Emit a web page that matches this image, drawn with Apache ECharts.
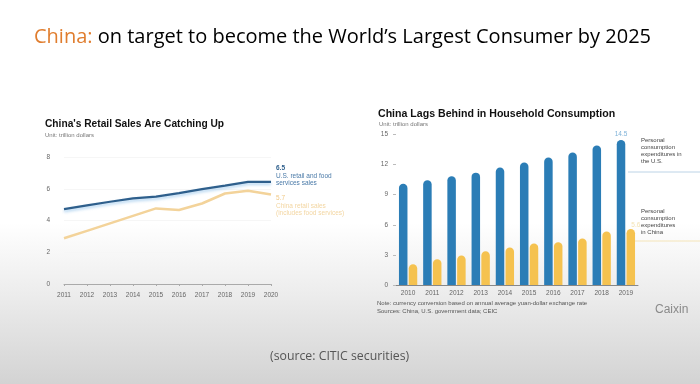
<!DOCTYPE html>
<html><head><meta charset="utf-8">
<script src="https://cdn.jsdelivr.net/npm/echarts@6/dist/echarts.min.js"></script>
<style>html,body{margin:0;padding:0;}#c{width:700px;height:384px;}</style>
</head><body><div id="c"></div>
<script>
// Left chart: retail sales (trillion dollars)
const retailYears = ['2011','2012','2013','2014','2015','2016','2017','2018','2019','2020'];
const usRetail = [4.72, 4.95, 5.18, 5.39, 5.5, 5.72, 5.98, 6.2, 6.43, 6.43];
const chinaRetail = [2.88, 3.35, 3.82, 4.29, 4.76, 4.66, 5.07, 5.7, 5.87, 5.64];
const retailTicks = [0, 2, 4, 6, 8];
const usRetailLabel = '6.5';
const chinaRetailLabel = '5.7';

// Right chart: household consumption (trillion dollars)
const consYears = ['2010','2011','2012','2013','2014','2015','2016','2017','2018','2019'];
const usCons = [10.1, 10.45, 10.85, 11.2, 11.7, 12.2, 12.7, 13.2, 13.9, 14.45];
const chinaCons = [2.07, 2.57, 2.93, 3.37, 3.73, 4.13, 4.27, 4.63, 5.33, 5.57];
const consTicks = [0, 3, 6, 9, 12, 15];
const usConsLabel = '14.5';
const chinaConsLabel = '5.6';

const chart = echarts.init(document.getElementById('c'));
const gray = '#666';
const tf = 'Liberation Sans, Arial, sans-serif';

chart.setOption({
  animation: false,
  backgroundColor: {type:'linear', x:0, y:0, x2:0, y2:1, colorStops:[
    {offset:0, color:'#ffffff'}, {offset:0.58, color:'#ffffff'},
    {offset:0.75, color:'#eeeeee'}, {offset:1, color:'#d3d3d3'}]},
  title: [
    {text:'{o|China:} on target to become the World\u2019s Largest Consumer by 2025', left:34, top:27, padding:0,
     textStyle:{fontFamily:'Open Sans, sans-serif', fontSize:20, fontWeight:'normal', color:'#000',
       rich:{o:{color:'#e07d2e', fontFamily:'Open Sans, sans-serif', fontSize:20}}}},
    {text:"China's Retail Sales Are Catching Up", left:45, top:119, padding:0,
     textStyle:{fontFamily:tf, fontSize:10.2, fontWeight:'bold', color:'#111'}},
    {text:'Unit: trillion dollars', left:45, top:132, padding:0, textStyle:{fontFamily:tf, fontSize:6, color:'#777', fontWeight:'normal'}},
    {text:'China Lags Behind in Household Consumption', left:378, top:109, padding:0,
     textStyle:{fontFamily:tf, fontSize:10.6, fontWeight:'bold', color:'#111'}},
    {text:'Unit: trillion dollars', left:379, top:121, padding:0, textStyle:{fontFamily:tf, fontSize:6, color:'#777', fontWeight:'normal'}},
    {text:'Note: currency conversion based on annual average yuan-dollar exchange rate\nSources: China, U.S. government data; CEIC',
     left:377, top:299, padding:0, textStyle:{fontFamily:tf, fontSize:6, color:'#555', fontWeight:'normal', lineHeight:8}},
    {text:'Caixin', left:655, top:304, padding:0, textStyle:{fontFamily:tf, fontSize:12, color:'#8a8a8a', fontWeight:'normal'}},
    {text:'(source: CITIC securities)', left:270, top:350, padding:0,
     textStyle:{fontFamily:'Open Sans, sans-serif', fontSize:12.3, color:'#555', fontWeight:'normal'}}
  ],
  grid: [
    {left:64, top:157, width:207, height:127},
    {left:396, top:134.5, width:242, height:150.5}
  ],
  xAxis: [
    {gridIndex:0, type:'category', data:retailYears, boundaryGap:false,
     axisLine:{lineStyle:{color:'#aaa', width:1}}, axisTick:{show:true, length:2, lineStyle:{color:'#aaa'}},
     axisLabel:{color:gray, fontSize:6.5, fontFamily:tf, margin:8}},
    {gridIndex:1, type:'category', data:consYears,
     axisLine:{lineStyle:{color:'#888', width:1}}, axisTick:{show:false},
     axisLabel:{color:gray, fontSize:6.5, fontFamily:tf, margin:5}}
  ],
  yAxis: [
    {gridIndex:0, type:'value', min:retailTicks[0], max:retailTicks[retailTicks.length-1], interval:2,
     axisLine:{show:false}, axisTick:{show:false},
     axisLabel:{color:gray, fontSize:6.5, fontFamily:tf, margin:14},
     splitLine:{show:true, lineStyle:{color:'#f6f6f6'}}},
    {gridIndex:1, type:'value', min:consTicks[0], max:consTicks[consTicks.length-1], interval:3,
     axisLine:{show:false}, axisTick:{show:true, length:3, inside:false, lineStyle:{color:'#bbb'}},
     axisLabel:{color:gray, fontSize:6.5, fontFamily:tf, margin:8},
     splitLine:{show:false}}
  ],
  series: [
    {type:'line', xAxisIndex:0, yAxisIndex:0, data:usRetail, symbol:'none',
     lineStyle:{color:'#2e5f8c', width:2.2, shadowColor:'rgba(120,180,230,0.6)', shadowBlur:3, shadowOffsetY:2},
     endLabel:{show:true, distance:5, offset:[0,-6], align:'left', verticalAlign:'middle',
       formatter:()=>'{v|'+usRetailLabel+'}\n{t|U.S. retail and food}\n{t|services sales}',
       rich:{v:{color:'#2e5f8c', fontSize:6.5, fontWeight:'bold', fontFamily:tf, lineHeight:8},
             t:{color:'#4a7aa8', fontSize:6.5, fontFamily:tf, lineHeight:7.5}}}},
    {type:'line', xAxisIndex:0, yAxisIndex:0, data:chinaRetail, symbol:'none',
     lineStyle:{color:'#f3d39a', width:2.5},
     endLabel:{show:true, distance:5, offset:[0,11], align:'left', verticalAlign:'middle',
       formatter:()=>'{v|'+chinaRetailLabel+'}\n{t|China retail sales}\n{t|(includes food services)}',
       rich:{v:{color:'#f0c987', fontSize:6.5, fontFamily:tf, lineHeight:8},
             t:{color:'#f3d6a2', fontSize:6.5, fontFamily:tf, lineHeight:7.5}}}},
    {type:'bar', xAxisIndex:1, yAxisIndex:1, data:usCons, barWidth:8.5, barGap:'15%',
     itemStyle:{color:'#2b7db6', borderRadius:[4.25,4.25,0,0]},
     label:{show:true, position:'top', distance:2, color:'#7fb2d8', fontSize:6.5, fontFamily:tf,
       formatter:p=>p.dataIndex===usCons.length-1?usConsLabel:''}},
    {type:'bar', xAxisIndex:1, yAxisIndex:1, data:chinaCons, barWidth:8.5,
     itemStyle:{color:'#f5c24f', borderRadius:[4.25,4.25,0,0]},
     label:{show:true, position:'top', distance:0, offset:[5,0], color:'#f3e2b3', fontSize:6.5, fontFamily:tf,
       formatter:p=>p.dataIndex===chinaCons.length-1?chinaConsLabel:''}}
  ],
  graphic: [
    {type:'text', left:641, top:137, style:{text:'Personal\nconsumption\nexpenditures in\nthe U.S.', fill:'#444', font:'6px '+tf, lineHeight:7}},
    {type:'line', shape:{x1:628, y1:172, x2:700, y2:172}, style:{stroke:'#bcd3e6', lineWidth:1}},
    {type:'text', left:641, top:208, style:{text:'Personal\nconsumption\nexpenditures\nin China', fill:'#444', font:'6px '+tf, lineHeight:7}},
    {type:'line', shape:{x1:634, y1:241, x2:700, y2:241}, style:{stroke:'#f4e4b8', lineWidth:1}}
  ]
});
</script></body></html>
